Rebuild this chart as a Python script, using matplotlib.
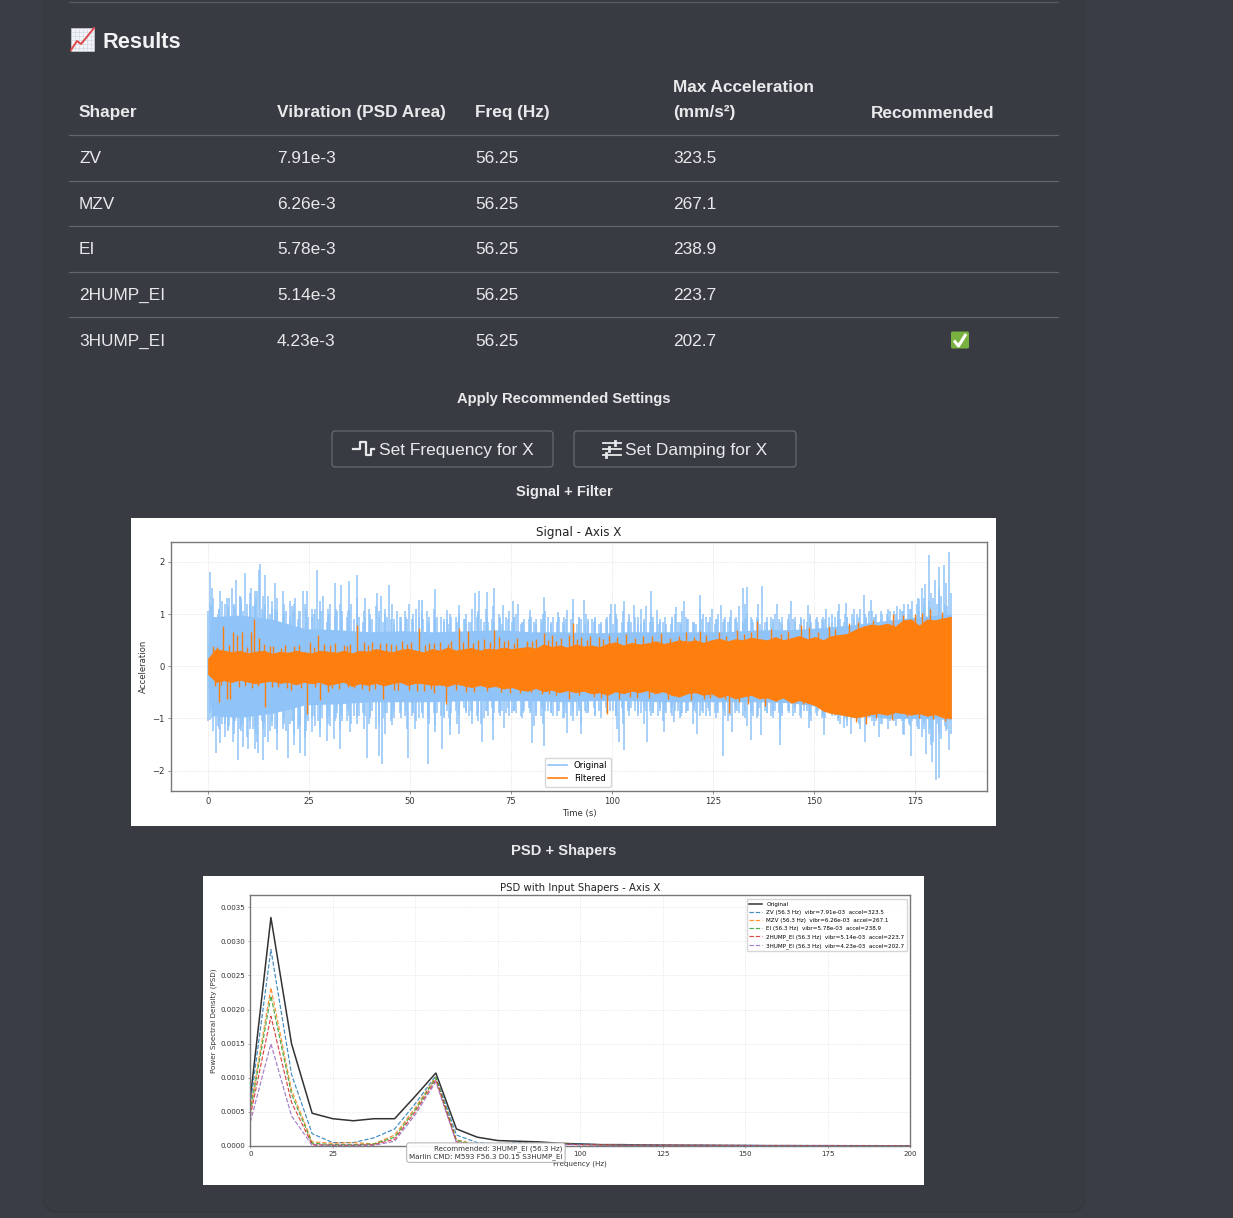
import matplotlib
matplotlib.use('Agg')
import matplotlib.pyplot as plt
from matplotlib.patches import FancyBboxPatch, Rectangle
import numpy as np

W, H = 1233, 1218

# results table
columns = ["Shaper", "Vibration (PSD Area)", "Freq (Hz)", "Max Acceleration\n(mm/s²)", "Recommended"]
shapers = ["ZV", "MZV", "EI", "2HUMP_EI", "3HUMP_EI"]
vibrations = ["7.91e-3", "6.26e-3", "5.78e-3", "5.14e-3", "4.23e-3"]
freqs = ["56.25", "56.25", "56.25", "56.25", "56.25"]
max_accels = ["323.5", "267.1", "238.9", "223.7", "202.7"]

# signal plot: tallest peaks of the original trace
orig_peak_t = [.4, .9, 3, 4.7, 5.9, 7, 7.8, 9.2, 10.6, 11.7, 12.5, 12.9, 14.2, 14.8, 16.5, 18.5, 20.2, 21.6, 23.5, 24.5,
               25.7, 27, 28.4, 29.8, 31.3, 32.9, 34.8, 36.9, 38.9, 41.8, 42.8, 44.7, 46.7, 49.6, 52.3, 52.9, 54.2, 56.1,
               59.1, 62, 63.6, 66, 67.1, 69, 70.7, 73, 75.4, 76.8, 79.7, 83, 86.7, 88.9, 90.4, 93, 95, 99.6, 100.8, 103,
               105.4, 107, 109.5, 111.1, 115.7, 117.7, 121.8, 124.7, 126.8, 129.3, 132.4, 133.4, 137.1, 140.8, 144.1,
               148.4, 152.8, 156, 157.7, 162.2, 164, 173.1, 175.8, 177.4, 178.3, 179.9, 180.8, 182, 183.3]
orig_peak_hi = [1.8, 1.5, 1.45, 1.3, 1.5, 1.65, 1.35, 1.78, 1.5, 1.45, 1.85, 1.95, 1.75, 1.35, 1.6, 1.45, 1.25, 1.3, 1.45, 1.45,
                1.1, 1.85, 1.35, 1.1, 1.6, 1.55, 1.63, 1.75, 1.3, 1.4, 1.35, 1.55, 1.05, 1.2, 1.27, 1.27, 1.05, 1.48,
                1.07, 1.18, .9, 1.41, 1.44, 1.42, 1.49, 1.17, 1.25, 1.2, 1.07, 1.33, 1.04, 1.07, 1.28, 1.26, .91, 1.2, 1.2, 1.25,
                1.17, 1.1, 1.44, 1.07, 1.14, 1.25, 1.37, 1.1, 1.18, 1.07, 1.5, 1.52, 1.54, 1.2, 1.25,
                1.17, 1.1, 1.2, 1.22, 1.37, 1.26, 1.2, 1.28, 1.58, 2.14, 1.65, 1.9, 1.94, 2.18]
orig_dip_t = [.6, 2, 2.9, 4.3, 6.3, 7.4, 8.7, 9.8, 11.7, 12.3, 13.6, 14.8, 17.1, 19.7, 21.2, 22.8, 23.9, 25.7, 27.8, 29.4,
              31.1, 32.7, 35.2, 39.3, 42.2, 43, 45.5, 49.4, 51.3, 54.3, 56.2, 58, 59.9, 62, 65.3, 67.8, 70.5, 73.1, 80.1,
              83, 88.8, 92.3, 101.6, 103, 108.5, 112.8, 115.3, 120.9, 127.4, 129.7, 134.2, 136.7, 141.5, 148.6, 152.4,
              157.3, 159.1, 162.4, 166, 172.1, 173.9, 177.7, 179.1, 180.1, 180.8, 183.3]
orig_dip_lo = [-1.03, -1.67, -1.48, -1.35, -1.45, -1.79, -1.55, -1.58, -1.58, -1.67, -1.79, -1.45, -1.6, -1.76, -1.51, -1.67, -1.72, -1.26, -1.35, -1.44,
               -1.39, -1.58, -1.26, -1.75, -1.72, -1.87, -1.13, -1.76, -1.2, -1.87, -1.26, -1.58, -1.32, -1.29, -1.1, -1.45, -1.42, -1.19, -1.48,
               -1.53, -1.27, -1.29, -1.45, -1.61, -1.45, -1.26, -1.07, -1.29, -1.71, -1.26, -1.42, -1.32, -1.51, -1.19, -1.31,
               -1.19, -1.29, -1.45, -1.35, -1.32, -1.71, -1.69, -1.83, -2.17, -2.15, -1.61]

# smaller swings of the original trace, one per second
orig_hi = [1.2, 1.3, 1.1, 1.25, 1.15, 1.3, 1.2, 1.35, 1.25, 1.2, 1.4, 1.3, 1.45, 1.35, 1.2, 1.25, 1.1, 1.3, 1.2, 1.05,
           1.15, 1.2, 1.05, 1.2, 1.1, .95, 1.1, 1.25, 1.05, .95, 1.2, 1.1, 1.2, 1.05, 1.1, 1.2, 1.3, .95, 1.05, 1.1,
           .9, 1.15, 1.05, 1.1, .95, 1.2, .9, .95, 1.05, .9, 1.0, 1.1, 1.05, .9, .95, 1.1, .85, .95, .9, 1.0,
           .95, .85, 1.0, .8, .85, 1.1, 1.05, .9, 1.1, .85, 1.15, 1.0, .9, .95, 1.05, .95, 1.0, .85, .9, .95,
           .85, .9, 1.0, 1.05, .85, .95, .9, .85, .95, .9, 1.05, .95, .9, 1.0, .85, .9, .8, .85, .95, 1.0,
           1.0, .9, 1.05, .85, 1.0, .95, .8, .85, 1.15, 1.0, .85, .9, .85, .8, .95, 1.0, .85, 1.05, .9, .85,
           .8, 1.1, 1.0, .85, .95, .9, 1.0, .9, .85, .95, .85, 1.15, 1.2, 1.0, .9, .95, 1.2, .85, .95, .9,
           1.0, .85, .95, 1.0, .9, .85, .95, .9, 1.0, .85, .95, .9, .85, .95, 1.0, 1.05, .9, 1.0, .95, 1.1,
           1.0, 1.1, .95, 1.05, .95, 1.0, 1.05, 1.0, 1.1, 1.05, 1.15, 1.05, 1.2, 1.1, 1.25, 1.3, 1.5, 1.3, 1.4, 1.3, 1.5, 1.35, 1.6, 1.4]
orig_lo = [-.9, -1.25, -1.2, -1.1, -1.25, -1.15, -1.3, -1.2, -1.25, -1.35, -1.2, -1.3, -1.45, -1.2, -1.35, -1.15, -1.2, -1.3, -1.1, -1.25,
           -1.05, -1.3, -1.15, -1.35, -1.25, -1.0, -1.15, -1.2, -1.0, -1.1, -1.15, -1.0, -1.2, -1.05, -.95, -1.1, -1.0, -.95, -1.2, -1.1,
           -.95, -1.2, -1.1, -1.3, -.9, -.95, -1.0, -.85, -.95, -1.2, -.9, -1.05, -.9, -1.0, -1.1, -.9, -1.15, -.95, -1.0, -1.15,
           -.9, -1.1, -.95, -.85, -.95, -.9, -1.05, -1.1, -.85, -.95, -1.05, -.9, -.85, -.9, -.95, -.85, -.9, -1.0, -.85, -.9,
           -1.15, -.95, -1.1, -.85, -.9, -.95, -.85, -1.0, -1.0, -.95, -1.05, -.85, -1.1, -.9, -.85, -.95, -.85, -1.0, -.9, -.85,
           -.95, -1.2, -1.1, -.85, -.95, -.85, -.9, -1.1, -.85, -.95, -.9, -.85, -1.05, -.9, -.95, -.85, -1.0, -.9, -.85, -1.1,
           -.85, -.95, -.9, -.85, -.95, -1.0, -.9, -.85, -1.05, -.95, -.85, -.9, -1.0, -1.15, -.85, -1.0, -.95, -.85, -.9, -1.0,
           -.85, -1.2, -.9, -.85, -.95, -.9, -1.0, -.85, -.9, -1.05, -.95, -1.0, -.9, -.85, -.95, -1.05, -1.1, -1.0, -1.15, -1.0,
           -1.05, -1.2, -1.1, -1.0, -1.15, -1.05, -1.1, -1.0, -1.2, -1.05, -1.0, -1.3, -1.05, -1.15, -1.05, -1.2, -1.35, -1.2, -1.5, -1.45, -1.3, -1.4, -1.25, -1.3]
orig_hi2 = [1.05, 1.15, 1.0, 1.1, 1.2, 1.05, 1.15, 1.1, 1.3, 1.05, 1.2, 1.15, 1.2, 1.1, 1.05, 1.0, 1.1, 1.05, .95, 1.0,
            .95, 1.05, .9, 1.05, .85, .95, 1.0, .9, 1.05, .85, 1.0, .95, 1.05, .9, .95, 1.05, .9, 1.0, .85, .95,
            1.0, .9, .95, .85, 1.0, .9, .8, .95, .85, .95, .9, .85, .95, 1.0, .85, .8, .9, .95, .85, .9,
            .8, .95, .85, .9, 1.0, .85, .95, 1.0, .85, .95, .9, .85, .95, .8, .9, .85, .95, .8, .85, .9,
            .95, .8, .9, .85, .95, .8, .85, .95, .8, .9, .85, .8, .95, .8, .9, .85, .95, .8, .9, .85,
            .8, .95, .85, .8, .9, .85, .95, .8, .9, .85, .95, .8, .85, .95, .8, .9, .85, .8, .95, .9,
            .85, .8, .9, .95, .85, .8, .9, .85, .95, .85, .9, .95, .85, .9, .95, .85, .9, .8, .85, .95,
            .85, .9, .8, .9, .85, .95, .8, .9, .85, .95, .9, .85, .95, .9, .85, .95, .9, .85, .95, 1.0,
            .9, .95, 1.0, .9, 1.05, .95, .9, 1.0, .95, 1.05, 1.0, 1.1, 1.05, 1.0, 1.1, 1.2, 1.05, 1.15, 1.25, 1.15, 1.2, 1.3, 1.2, 1.15]
orig_lo2 = [-1.05, -1.0, -1.15, -1.05, -1.1, -1.2, -1.1, -1.05, -1.15, -1.1, -1.05, -1.2, -1.15, -1.05, -1.1, -1.25, -1.05, -1.15, -1.2, -1.0,
            -1.1, -1.05, -1.2, -1.1, -1.0, -1.05, -.95, -1.05, -.9, -1.0, -.95, -1.05, -.9, -.95, -1.05, -.85, -.95, -1.1, -.9, -.95,
            -1.0, -.85, -.95, -1.0, -.9, -1.05, -.85, -.9, -1.0, -.85, -.95, -.9, -1.0, -.85, -.95, -1.0, -.85, -.9, -.95, -.85,
            -1.0, -.85, -.9, -.8, -.9, -.85, -.95, -.9, -1.0, -.85, -.8, -.9, -.95, -.85, -.8, -.9, -.85, -.95, -.9, -.8,
            -.85, -.9, -.95, -.8, -.85, -.9, -.95, -.85, -.8, -.9, -.85, -.95, -.8, -.85, -.9, -.8, -.95, -.85, -.8, -.9,
            -.85, -.95, -.8, -.9, -.85, -.8, -.95, -.9, -.8, -.85, -.9, -.95, -.8, -.85, -.9, -.8, -.85, -.95, -.9, -.85,
            -.8, -.9, -.85, -.95, -.8, -.9, -.85, -.8, -.95, -.85, -.9, -.8, -.95, -.85, -.9, -.95, -.85, -.8, -.9, -.95,
            -.85, -.9, -.95, -.85, -.9, -.8, -.95, -.9, -.85, -.95, -.9, -.85, -.95, -1.0, -.9, -.95, -1.0, -.95, -1.05, -.95,
            -1.0, -1.1, -1.0, -.95, -1.05, -1.0, -.95, -1.1, -1.0, -1.05, -1.15, -1.0, -1.05, -1.1, -1.0, -1.15, -1.2, -1.1, -1.3, -1.2, -1.1, -1.25, -1.15, -1.2]
# the swings do not fall on whole seconds
swing_offset = [.12, -.31, .27, -.08, .36, -.22, .05, .41, -.37, .18, -.14, .31, -.27, .09, -.41, .23]

# dense part of the original trace
body_t = [0, 1, 8, 16, 24, 32, 40, 48, 56, 64, 72, 80, 88, 96, 104, 112, 120, 128, 136, 144, 152, 160, 168, 176, 183.8]
body_hi = [.4, .95, .98, .9, .72, .7, .66, .68, .66, .68, .7, .66, .66, .64, .66, .66, .66, .66, .7, .7, .74, .8, .88, .95, 1.0]
body_lo = [-.4, -.95, -.98, -.9, -.74, -.72, -.68, -.68, -.68, -.66, -.66, -.66, -.68, -.66, -.66, -.68, -.68, -.68, -.68, -.7, -.78, -.92, -1.0, -1.0, -1.02]

# filtered trace: envelope and the spikes sticking out of it
filt_env_hi = [.15, .33, .3, .27, .3, .25, .28, .3, .24, .28, .26, .3, .27, .25, .3, .28, .26, .3, .25, .3,
               .28, .33, .3, .27, .31, .34, .3, .27, .33, .3, .36, .3, .33, .35, .3, .34, .32, .36, .33, .35,
               .37, .34, .42, .37, .4, .36, .42, .38, .4, .37, .43, .46, .4, .45, .42, .44, .48, .43, .46, .5,
               .47, .5, .45, .5, .53, .48, .52, .5, .55, .52, .5, .56, .5, .54, .58, .52, .56, .5, .58, .6,
               .62, .7, .76, .8, .78, .82, .76, .88, .9, .78, .9, .88, .92, .95]
filt_env_lo = [-.15, -.3, -.27, -.3, -.26, -.3, -.33, -.3, -.28, -.32, -.3, -.35, -.3, -.33, -.3, -.36, -.33, -.3, -.38, -.33,
               -.36, -.32, -.37, -.33, -.3, -.36, -.32, -.33, -.36, -.35, -.38, -.33, -.37, -.4, -.36, -.4, -.38, -.43, -.4, -.45,
               -.47, -.42, -.48, -.45, -.5, -.46, -.5, -.47, -.52, -.5, -.55, -.48, -.52, -.47, -.5, -.46, -.52, -.48, -.55, -.58,
               -.52, -.5, -.55, -.52, -.6, -.55, -.62, -.58, -.55, -.62, -.6, -.66, -.6, -.7, -.65, -.7, -.75, -.85, -.9, -.92,
               -.95, -.98, -.96, -.92, -.9, -.93, -.88, -.9, -.93, -.9, -.95, -.92, -.98, -1.0]
filt_spike_t = [3.7, 6.3, 7.2, 8.4, 10.6, 11.5, 12.5, 25.3, 27.2, 36.9, 40.6, 48, 52.2, 62, 64.3, 70.8, 71.9, 83, 85, 89.2,
                90.4, 96.7, 135.9, 146.6, 148.6, 178.7,
                1.3, 5.1, 9.7, 13.8, 16.2, 19.1, 22.4, 28.8, 31.5, 33.7, 35.1, 38.6, 42.5, 45.2, 50.3, 54.7, 57.4, 60.2, 66.8,
                68.3, 74.2, 76.5, 78.9, 81.1, 87.3, 92.2, 94.6, 99.1, 103.4, 107.7, 112.1, 118.3, 121.6, 126.4, 130.8, 139.2, 143.5, 153.7, 158.6, 169.4, 174.8,
                2.2, 15.3, 18.1, 21.2, 26.1, 30.2, 34.3, 39.5, 44.1, 46.4, 49.2, 53.6, 55.9, 59.4, 63.1, 65.5, 69.7, 73.3, 75.8, 80.2, 84.1, 86.2, 91.4, 93.7, 97.8,
                101.2, 105.6, 109.9, 114.3, 116.5, 120.2, 123.3, 128.1, 132.5, 134.4, 141.7, 150.9, 155.1, 160.7, 164.6, 171.9, 176.7, 181.6]
filt_spike_hi = [.77, .66, .6, .66, .66, .91, .55, .47, .6, .79, .47, .48, .74, .74, .67, .69, .56, .63, .6, .6,
                 .83, .56, .86, .79, .75, 1.09,
                 .38, .4, .36, .42, .38, .4, .41, .42, .44, .4, .43, .46, .45, .42, .47, .44, .46, .48, .5,
                 .52, .5, .54, .49, .53, .55, .56, .58, .6, .62, .58, .64, .66, .68, .66, .7, .72, .68, .78, .82, 1.0, 1.0,
                 .36, .38, .35, .39, .37, .4, .39, .41, .44, .4, .43, .41, .45, .43, .47, .44, .46, .48, .45, .49, .51, .48, .52, .5, .53,
                 .56, .54, .58, .55, .58, .56, .6, .58, .62, .66, .62, .66, .72, .84, .88, .98, 1.02, 1.03]
filt_dip_t = [2.8, 4.7, 5.4, 14, 24.5, 27.8, 29.8, 43.4, 56, 58.9, 89.2, 98.8, 128.9, 160.2, 162.7, 169.2,
              1.8, 7.6, 10.9, 17.4, 20.6, 23.1, 32.3, 36.2, 39.8, 47.1, 51.6, 61.3, 65.7, 72.4, 77.3, 82.6, 86.1, 95.4,
              101.7, 106.2, 113.8, 119.5, 124.1, 133.6, 137.7, 144.9, 151.2, 156.3, 175.9,
              3.3, 9.1, 12.4, 15.8, 19.5, 26.4, 30.7, 34.6, 38.1, 41.3, 45.9, 49.7, 53.4, 55.2, 63.8, 69.1, 74.6, 79.8, 84.4, 91.7, 97.2,
              104.3, 109.1, 116.2, 122.7, 127.9, 131.4, 140.6, 147.3, 154.5, 165.2, 172.8, 179.3, 182.4]
filt_dip_lo = [-.68, -.62, -.62, -.78, -.92, -.65, -.49, -.63, -.51, -.73, -.62, -.91, -.89, -1.07, -1.1, -1.03,
               -.38, -.4, -.42, -.4, -.46, -.42, -.44, -.42, -.47, -.46, -.48, -.46, -.5, -.5, -.52, -.53, -.55, -.58,
               -.62, -.6, -.62, -.65, -.6, -.72, -.76, -.7, -.74, -.85, -1.0,
               -.36, -.38, -.37, -.39, -.41, -.4, -.42, -.39, -.43, -.44, -.46, -.45, -.47, -.44, -.5, -.48, -.52, -.5, -.54, -.56, -.6,
               -.58, -.6, -.58, -.62, -.62, -.68, -.66, -.72, -.78, -1.0, -.96, -1.02, -1.04]

# PSD plot
psd_freq = [0, 6.25, 12.5, 18.75, 25, 31.25, 37.5, 43.75, 50, 56.25, 62.5, 68.75, 75, 81.25, 87.5, 93.75, 100, 106.25, 112.5,
            118.75, 125, 131.25, 137.5, 143.75, 150, 156.25, 162.5, 168.75, 175, 181.25, 187.5, 193.75, 200]
psd_orig = [.00070, .00335, .00150, .00048, .00040, .00037, .00040, .00040, .00073, .00107, .00025, .00013, .00008, .00007, .00006, .00004,
            .00003, .00002, .00002, .000015, .000012, .00001, .00001, .000008, .000008, .000006, .000006, .000005, .000005, .000004, .000004, .000003, .000003]
psd_zv = [.00060, .00288, .00105, .00018, .00005, .00005, .00012, .00025, .00062, .00103, .00016, .00005, .00003, .00005, .00005, .00003,
          .00003, .00002, .00002, .000015, .000012, .00001, .00001, .000008, .000008, .000006, .000006, .000005, .000005, .000004, .000004, .000003, .000003]
psd_mzv = [.00053, .00232, .00082, .00006, .00004, .00005, .00003, .00016, .00056, .00101, .00009, .00002, .00002, .00004, .00004, .00003,
           .00002, .00002, .00001, .00001, .00001, .00001, .000008, .000008, .000006, .000006, .000005, .000005, .000004, .000004, .000003, .000003, .000003]
psd_ei = [.00050, .00220, .00076, .00004, .00002, .00002, .00003, .00013, .00053, .00100, .00008, .00002, .00002, .00003, .00004, .00003,
          .00002, .00002, .00001, .00001, .00001, .00001, .000008, .000008, .000006, .000006, .000005, .000005, .000004, .000004, .000003, .000003, .000003]
psd_2hump = [.00044, .00190, .00064, .00002, .00001, .00001, .00002, .00010, .00050, .00097, .00006, .00002, .00002, .00003, .00004, .00003,
             .00002, .00002, .00001, .00001, .00001, .00001, .000008, .000008, .000006, .000006, .000005, .000005, .000004, .000004, .000003, .000003, .000003]
psd_3hump = [.00035, .00150, .00044, .00001, .00001, .00001, .00001, .00007, .00046, .00094, .00005, .00001, .00002, .00003, .00003, .00002,
             .00002, .00001, .00001, .00001, .00001, .00001, .000008, .000006, .000006, .000005, .000005, .000004, .000004, .000003, .000003, .000003, .000002]
psd_labels = ["ZV (56.3 Hz)  vibr=7.91e-03  accel=323.5", "MZV (56.3 Hz)  vibr=6.26e-03  accel=267.1",
              "EI (56.3 Hz)  vibr=5.78e-03  accel=238.9", "2HUMP_EI (56.3 Hz)  vibr=5.14e-03  accel=223.7",
              "3HUMP_EI (56.3 Hz)  vibr=4.23e-03  accel=202.7"]
psd_colors = ["tab:blue", "tab:orange", "tab:green", "tab:red", "tab:purple"]

PAGE = "#3a3d45"
CARD = "#383b42"
TXT = "#e8e9ea"
UI = ["Liberation Sans", "DejaVu Sans"]


def px(size):
    return size / 100 * 72


def axes_at(left, top, right, bottom):
    return fig.add_axes([left / W, 1 - bottom / H, (right - left) / W, (bottom - top) / H])


fig = plt.figure(figsize=(W / 100, H / 100), dpi=100, facecolor=PAGE)

page = fig.add_axes([0, 0, 1, 1])
page.set_xlim(0, W)
page.set_ylim(H, 0)
page.axis("off")

# card with soft shadow
page.add_patch(FancyBboxPatch((44, -40), 1040, 1252, boxstyle="round,pad=0,rounding_size=14", fc="#35383d", ec="#35383d", lw=2))
page.add_patch(FancyBboxPatch((44, -40), 1040, 1251, boxstyle="round,pad=0,rounding_size=14", fc=CARD, ec="none"))

page.plot([69, 1058], [1.5, 1.5], color="#565a5f", lw=1)

# heading with chart icon
page.add_patch(Rectangle((71, 28), 23, 23, fc="#f2f4f7", ec="#c9ccd2", lw=0.5))
for g in range(1, 6):
    page.plot([71 + g * 3.9, 71 + g * 3.9], [28, 51], color="#ccd3de", lw=0.4)
    page.plot([71, 94], [28 + g * 3.9, 28 + g * 3.9], color="#ccd3de", lw=0.4)
page.plot([71, 77, 81, 86, 94], [50, 41, 44, 38, 28], color="#e0484c", lw=1.4)
page.text(102, 47.5, "Results", color="#f2f3f4", fontsize=px(21.8), fontweight="bold", family=UI)

# table
col_x = [79, 277, 475, 673, 871]
for x, label in zip(col_x, columns):
    if "\n" in label:
        a, b = label.split("\n")
        page.text(x, 92.5, a, color=TXT, fontsize=px(17.3), fontweight="bold", family=UI)
        page.text(x, 117.5, b, color=TXT, fontsize=px(17.3), fontweight="bold", family=UI)
    else:
        page.text(x, 117.5, label, color=TXT, fontsize=px(17.3), fontweight="bold", family=UI)
rule_y = [135, 180.5, 226, 271.5, 317]
row_y = [163, 209, 254, 300, 346]
for y in rule_y:
    page.plot([69, 1058], [y, y], color="#63666b", lw=0.9)
for i, y in enumerate(row_y):
    for x, cell in zip(col_x, [shapers[i], vibrations[i], freqs[i], max_accels[i]]):
        page.text(x, y, cell, color=TXT, fontsize=px(17.3), family=UI)

# check mark of the recommended row
page.add_patch(FancyBboxPatch((951, 331.5), 18, 17, boxstyle="round,pad=0,rounding_size=1.5", fc="#78b13f", ec="none"))
page.plot([954, 958.5, 966], [340.5, 346, 334], color="white", lw=2.2, solid_capstyle="butt")

# buttons
page.text(564, 403, "Apply Recommended Settings", color=TXT, fontsize=px(14.7), fontweight="bold", family=UI, ha="center")
for x0, x1 in [(332, 553), (574, 796)]:
    page.add_patch(FancyBboxPatch((x0, 431), x1 - x0, 36, boxstyle="round,pad=0,rounding_size=3", fc="none", ec="#6c6f75", lw=0.8))
page.plot([353, 360, 360, 366, 366, 371, 371, 374], [449, 449, 442, 442, 455, 455, 449, 449], color=TXT, lw=1.6)
for y, k in [(443, 615), (449, 609), (455, 606)]:
    page.plot([603, 621], [y, y], color=TXT, lw=1.3)
    page.plot([k, k], [y - 1.8, y + 1.8], color=TXT, lw=2)
page.text(379, 455, "Set Frequency for X", color=TXT, fontsize=px(17.4), family=UI)
page.text(625, 455, "Set Damping for X", color=TXT, fontsize=px(17.4), family=UI)

page.text(564, 496, "Signal + Filter", color=TXT, fontsize=px(14.7), fontweight="bold", family=UI, ha="center")
page.text(564, 855, "PSD + Shapers", color=TXT, fontsize=px(14.7), fontweight="bold", family=UI, ha="center")

# white chart backgrounds
page.add_patch(Rectangle((131, 518), 865, 308, fc="white", ec="none"))
page.add_patch(Rectangle((203, 876), 721, 309, fc="white", ec="none"))

# signal plot
ax = axes_at(171, 542, 987, 791)
per_second = np.clip(np.arange(len(orig_hi)) + 0.5 + np.resize(swing_offset, len(orig_hi)), 0.1, 183.8)
per_second2 = np.clip(np.arange(len(orig_hi2)) + 0.05 + np.resize(swing_offset[5:] + swing_offset[:5], len(orig_hi2)), 0.1, 183.8)
blue = "#90c4f9"
ax.fill_between(body_t, body_lo, body_hi, color=blue, lw=0, zorder=2)
ax.vlines(per_second, orig_lo, orig_hi, color=blue, lw=1.1, zorder=2)
ax.vlines(per_second2, orig_lo2, orig_hi2, color=blue, lw=1.1, zorder=2)
ax.vlines(orig_peak_t, 0, orig_peak_hi, color=blue, lw=1.1, zorder=2)
ax.vlines(orig_dip_t, orig_dip_lo, 0, color=blue, lw=1.1, zorder=2)
ax.plot([], [], color=blue, lw=1.2, label="Original")

orange = "#ff7f0e"
env_t = np.linspace(0, 183.8, len(filt_env_hi))
ax.fill_between(env_t, filt_env_lo, filt_env_hi, color=orange, lw=0.5, zorder=3)
ax.vlines(filt_spike_t, 0, filt_spike_hi, color=orange, lw=1.0, zorder=3)
ax.vlines(filt_dip_t, filt_dip_lo, 0, color=orange, lw=1.0, zorder=3)
ax.plot([], [], color=orange, lw=1.2, label="Filtered")

ax.set_xlim(-9.15, 192.7)
ax.set_ylim(-2.39, 2.38)
ax.set_xticks([0, 25, 50, 75, 100, 125, 150, 175])
ax.set_yticks([-2, -1, 0, 1, 2])
ax.set_title("Signal - Axis X", fontsize=8.6, color="#222222", pad=4.5)
ax.set_xlabel("Time (s)", fontsize=6.1, color="#333333", labelpad=2)
ax.set_ylabel("Acceleration", fontsize=6.1, color="#333333", labelpad=3)
ax.tick_params(labelsize=6.1, length=2, width=0.5, pad=2.5, labelcolor="#333333", color="#666666")
ax.grid(True, ls=":", lw=0.5, color="#c8c8c8", alpha=0.8)
for s in ax.spines.values():
    s.set_color("#777777")
    s.set_linewidth(1)
    s.set_zorder(5)
ax.legend(loc="lower center", fontsize=6.1, framealpha=0.8, borderpad=0.45, handlelength=2.2, labelspacing=0.45,
          bbox_to_anchor=(0.4985, 0.016), borderaxespad=0).set_zorder(6)

# PSD plot
ax2 = axes_at(250.3, 895, 910, 1146)
ax2.plot(psd_freq, psd_orig, color="#333333", lw=1.1, label="Original")
for vals, label, col in zip([psd_zv, psd_mzv, psd_ei, psd_2hump, psd_3hump], psd_labels, psd_colors):
    ax2.plot(psd_freq, vals, ls="--", lw=0.85, alpha=0.85, color=col, label=label)
ax2.set_xlim(0, 200)
ax2.set_ylim(0, 0.00368)
ax2.set_xticks([0, 25, 50, 75, 100, 125, 150, 175, 200])
ax2.set_yticks([0, .0005, .001, .0015, .002, .0025, .003, .0035])
ax2.set_yticklabels(["0.0000", "0.0005", "0.0010", "0.0015", "0.0020", "0.0025", "0.0030", "0.0035"])
ax2.set_title("PSD with Input Shapers - Axis X", fontsize=7.25, color="#222222", pad=3)
ax2.set_xlabel("Frequency (Hz)", fontsize=5.1, color="#333333", labelpad=2.5)
ax2.set_ylabel("Power Spectral Density (PSD)", fontsize=5.1, color="#333333", labelpad=3)
ax2.tick_params(labelsize=5.1, length=1.5, width=0.4, pad=2, labelcolor="#333333", color="#666666")
ax2.grid(True, ls=":", lw=0.5, color="#cfcfcf", alpha=0.8)
for s in ax2.spines.values():
    s.set_color("#777777")
    s.set_linewidth(1)
ax2.legend(loc="upper right", fontsize=4.1, framealpha=0.8, borderpad=0.45, handlelength=2.2, labelspacing=0.55,
           bbox_to_anchor=(0.9955, 0.984), borderaxespad=0)
ax2.text(0.4735, 0.0025, "Recommended: 3HUMP_EI (56.3 Hz)\nMarlin CMD: M593 F56.3 D0.15 S3HUMP_EI", transform=ax2.transAxes,
         fontsize=5.1, color="#333333", ha="right", va="top", multialignment="right", zorder=10, clip_on=False,
         bbox=dict(boxstyle="round,pad=0.35", fc="white", ec="#aaaaaa", alpha=0.95, lw=0.7))

fig.savefig("out.png", dpi=100, facecolor=fig.get_facecolor())
